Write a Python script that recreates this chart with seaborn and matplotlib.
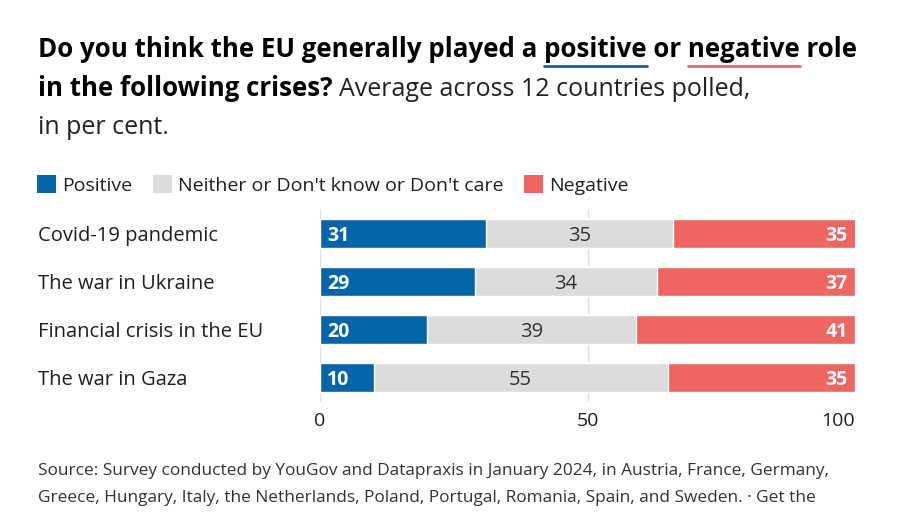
import matplotlib
matplotlib.use("Agg")
import matplotlib.pyplot as plt
import seaborn as sns
import pandas as pd
from matplotlib.patches import Patch

# data (per cent, average across 12 countries)
crises = ["Covid-19 pandemic", "The war in Ukraine", "Financial crisis in the EU", "The war in Gaza"]
positive = [31, 29, 20, 10]
neither = [35, 34, 39, 55]
negative = [35, 37, 41, 35]
x_ticks = [0, 50, 100]
legend_labels = ["Positive", "Neither or Don't know or Don't care", "Negative"]

BLUE = "#0565a9"
GREY = "#dcdcdc"
RED = "#f06461"
TEXT = "#1f1f1f"

sns.set_theme(style="white")
plt.rcParams["font.family"] = ["Open Sans", "DejaVu Sans"]

df = pd.DataFrame({"crisis": crises, "pos": positive, "neither": neither, "neg": negative})
df["pos_end"] = df["pos"]
df["mid_end"] = df["pos"] + df["neither"]
df["neg_end"] = df["mid_end"] + df["neg"]

W, H = 917, 517
fig = plt.figure(figsize=(W / 100, H / 100), dpi=100)
ax = fig.add_axes([320 / W, 1 - 402 / H, 535 / W, 193 / H])

# stacked bars: draw cumulative totals from the back to the front
for col, color in [("neg_end", RED), ("mid_end", GREY), ("pos_end", BLUE)]:
    sns.barplot(data=df, x=col, y="crisis", color=color, width=0.62, saturation=1,
                errorbar=None, ax=ax, zorder=2)

ax.set_xlim(0, 100)
ax.set_ylim(3.51, -0.51)
ax.set_xticks(x_ticks)
ax.set_xticklabels([str(t) for t in x_ticks])
ax.get_xticklabels()[-1].set_horizontalalignment("right")
ax.xaxis.grid(True, color="#e3e3e3", linewidth=1, zorder=0)
ax.set_axisbelow(True)
for s in ax.spines.values():
    s.set_visible(False)
ax.set_xlabel("")
ax.set_ylabel("")
ax.tick_params(axis="x", length=0, pad=7, labelsize=14, labelcolor=TEXT)
ax.tick_params(axis="y", length=0, pad=203, labelsize=14.5, labelcolor=TEXT)
for lab in ax.get_yticklabels():
    lab.set_horizontalalignment("left")
    lab.set_verticalalignment("center_baseline")

# value labels
for i, r in df.iterrows():
    ax.annotate(str(r["pos"]), xy=(0, i), xytext=(5, 0), textcoords="offset points",
                ha="left", va="center_baseline", color="white", fontweight="bold", fontsize=14)
    ax.text((r["pos_end"] + r["mid_end"]) / 2, i, str(r["neither"]), ha="center",
            va="center_baseline", color="#333333", fontsize=14.5)
    ax.annotate(str(r["neg"]), xy=(100, i), xytext=(-5, 0), textcoords="offset points",
                ha="right", va="center_baseline", color="white", fontweight="bold", fontsize=14)

# title with mixed weights and coloured underlines
fig.canvas.draw()
rend = fig.canvas.get_renderer()


def width_px(s, **kw):
    t = fig.text(0, 0, s, **kw)
    w = t.get_window_extent(rend).width
    t.remove()
    return w


x0 = 38
TS = 18.6
line1 = "Do you think the EU generally played a positive or negative role"
fig.text(x0 / W, 1 - 57 / H, line1, fontsize=TS, fontweight="bold", color="black", va="baseline")
for word, color, upto in [("positive", "#1f5f8f", "Do you think the EU generally played a positive"),
                          ("negative", "#d9706c", "Do you think the EU generally played a positive or negative")]:
    end = x0 + width_px(upto, fontsize=TS, fontweight="bold")
    start = end - width_px(word, fontsize=TS, fontweight="bold")
    fig.add_artist(plt.Line2D([start / W, end / W], [1 - 65.5 / H, 1 - 65.5 / H],
                              color=color, linewidth=2, transform=fig.transFigure))

bold2 = "in the following crises?"
fig.text(x0 / W, 1 - 96 / H, bold2, fontsize=TS, fontweight="bold", color="black", va="baseline")
space = width_px("a a", fontsize=TS) - width_px("aa", fontsize=TS)
x2 = x0 + width_px(bold2, fontsize=TS, fontweight="bold") + space
fig.text(x2 / W, 1 - 96 / H, "Average across 12 countries polled,", fontsize=TS * 0.97,
         color="#222222", va="baseline")
fig.text(x0 / W, 1 - 134 / H, "in per cent.", fontsize=TS * 0.97, color="#222222", va="baseline")

# legend
handles = [Patch(facecolor=c, edgecolor="none") for c in [BLUE, GREY, RED]]
fig.legend(handles, legend_labels, ncol=3, loc="center left",
           bbox_to_anchor=(37 / W, 1 - 185 / H), frameon=False, fontsize=14,
           handlelength=1.0, handleheight=1.0, handletextpad=0.3, columnspacing=1.05,
           labelcolor=TEXT, borderpad=0, borderaxespad=0)

# footer
fig.text(x0 / W, 1 - 471 / H,
         "Source: Survey conducted by YouGov and Datapraxis in January 2024, in Austria, France, Germany,",
         fontsize=12.4, color="#333333", va="center")
fig.text(x0 / W, 1 - 498 / H,
         "Greece, Hungary, Italy, the Netherlands, Poland, Portugal, Romania, Spain, and Sweden. · Get the",
         fontsize=12.4, color="#333333", va="center")

fig.savefig("out.png", dpi=100, facecolor="white")
